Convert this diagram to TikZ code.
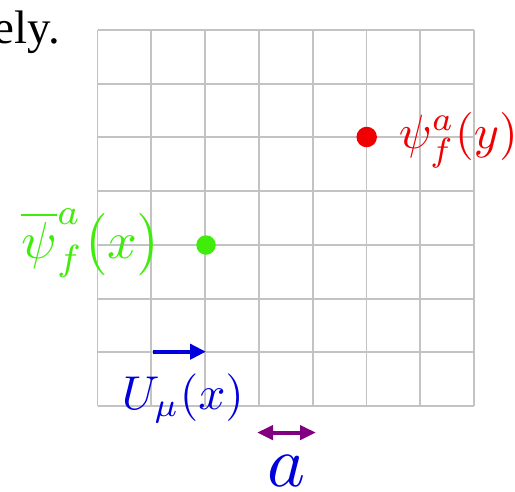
\documentclass[tikz,border=0pt]{standalone}
\usepackage{fontspec}
\newfontfamily\timesfont{Liberation Serif}
\usetikzlibrary{arrows.meta}
\definecolor{gridgray}{RGB}{195,195,195}
\definecolor{ptred}{RGB}{240,0,0}
\definecolor{ptgreen}{RGB}{64,236,10}
\definecolor{ptblue}{RGB}{0,0,220}
\definecolor{ptpurple}{RGB}{128,0,128}
\tikzset{
  gridline/.style={draw=gridgray, line width=1.9pt},
  site/.style={circle, inner sep=0pt, minimum size=#1},
  lbl/.style={inner sep=0pt, anchor=base west, transform shape, font=\fontsize{10}{12}\selectfont},
  linkarrow/.style={line width=4pt, -{Triangle[length=16pt,width=15pt]}},
  spacingarrow/.style={line width=4pt, {Triangle[length=16pt,width=14pt]}-{Triangle[length=16pt,width=14pt]}}
}
\begin{document}
\begin{tikzpicture}[x=1pt,y=-1pt]
\useasboundingbox (0,0) rectangle (515,491);
\clip (0,0) rectangle (515,491);
% previous text fragment
\node[inner sep=0pt, anchor=base east, font=\timesfont\fontsize{47}{52}\selectfont] (prevtext) at (60,43) {ely.};
% lattice
\foreach \i in {0,...,7}{
  \draw[gridline] (97.5+\i*53.79,30) -- (97.5+\i*53.79,406);
  \draw[gridline] (97.5,30+\i*53.71) -- (474,30+\i*53.71);
}
% sites
\node[site=20.5pt, fill=ptred] (ysite) at (366.7,137) {};
\node[site=19.5pt, fill=ptgreen] (xsite) at (206,245) {};
% labels
\node[lbl, text=ptred, scale=4.8] (ylbl) at (398,148) {$\psi^a_f(y)$};
\node[lbl, text=ptgreen, scale=5.2] (xlbl) at (20,258) {$\overline{\psi}^a_f\bigl(x\bigr)$};
\node[lbl, text=ptblue, scale=4.75] (ulbl) at (121,409) {$U_\mu(x)$};
\node[lbl, anchor=base, text=ptblue, scale=7.2] (albl) at (287,486) {$a$};
% link arrow
\coordinate (linkstart) at (153,351.7);
\coordinate (linkend) at (206,351.7);
\draw[linkarrow, draw=ptblue, fill=ptblue] (linkstart) -- (linkend);
% lattice spacing arrow
\coordinate (aleft) at (257,432.6);
\coordinate (aright) at (316,432.6);
\draw[spacingarrow, draw=ptpurple, fill=ptpurple] (aleft) -- (aright);
\end{tikzpicture}
\end{document}
